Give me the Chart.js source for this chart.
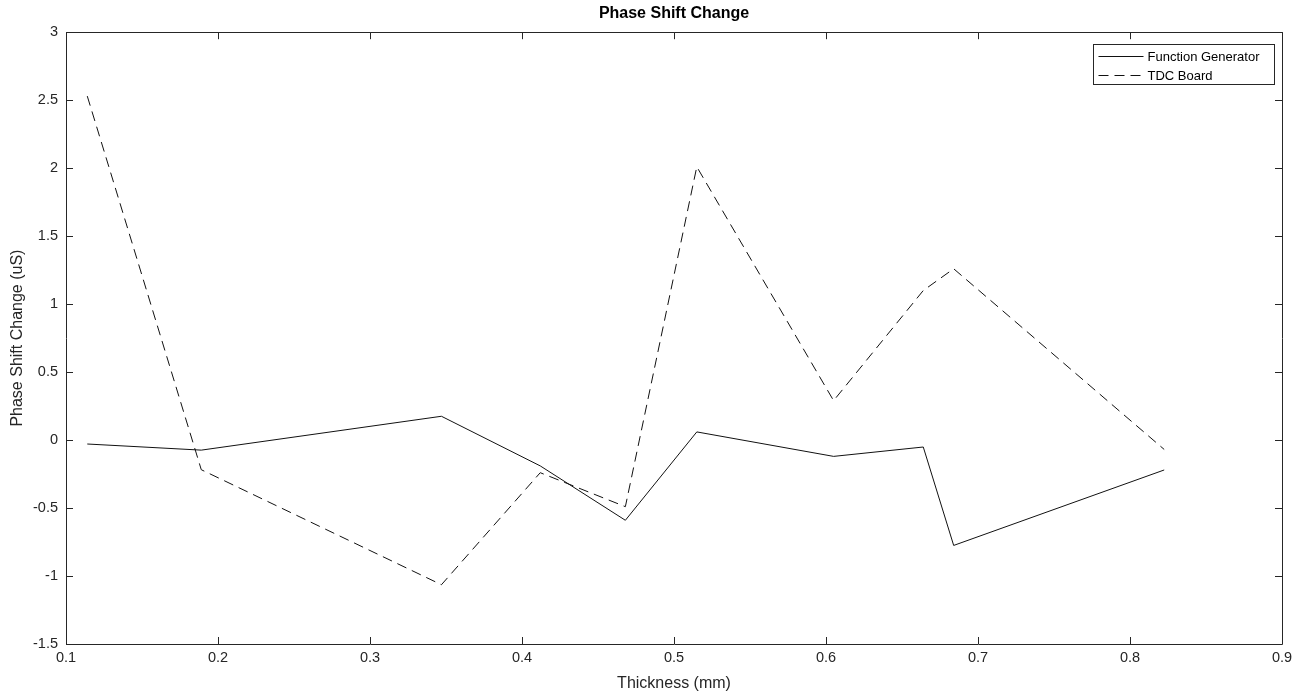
<!DOCTYPE html>
<html>
<head>
<meta charset="utf-8">
<title>Phase Shift Change</title>
<script src="https://cdn.jsdelivr.net/npm/chart.js@4.4.1/dist/chart.umd.min.js"></script>
<style>
  html, body { margin: 0; padding: 0; background: #fff; }
  #wrap { width: 1311px; height: 696px; }
</style>
</head>
<body>
<div id="wrap"><canvas id="phaseChart" width="1311" height="696"></canvas></div>
<script>
// thickness values (mm), shared by both series
var thickness = [0.114, 0.189, 0.347, 0.412, 0.468, 0.515, 0.605, 0.664, 0.684, 0.8225];
// phase shift change (uS)
var funcGen = [-0.029, -0.074, 0.175, -0.19, -0.59, 0.06, -0.12, -0.051, -0.775, -0.22];
var tdcBoard = [2.53, -0.218, -1.064, -0.24, -0.49, 2.01, 0.29, 1.1, 1.26, -0.069];

var seriesNames = ['Function Generator', 'TDC Board'];
var xTicks = [0.1, 0.2, 0.3, 0.4, 0.5, 0.6, 0.7, 0.8, 0.9];
var yTicks = [-1.5, -1, -0.5, 0, 0.5, 1, 1.5, 2, 2.5, 3];

var axisColor = '#262626';
var fontFam = '"Liberation Sans", Arial, Helvetica, sans-serif';

function toPoints(ys) {
    return thickness.map(function (t, i) { return { x: t, y: ys[i] }; });
}

// box round the plot + ticks pointing inwards on all four sides, and the legend
var matlabBox = {
    id: 'matlabBox',
    afterLayout: function (chart) {
        // centre the title over the axes, not the whole canvas
        var tb = chart.titleBlock;
        if (tb) {
            tb.left = chart.chartArea.left;
            tb.right = chart.chartArea.right;
            tb.width = tb.right - tb.left;
        }
    },
    afterDraw: function (chart) {
        var ctx = chart.ctx;
        var a = chart.chartArea;
        var xs = chart.scales.x, ys = chart.scales.y;
        var len = 7;
        ctx.save();
        ctx.strokeStyle = axisColor;
        ctx.lineWidth = 1;
        ctx.beginPath();
        ctx.rect(Math.round(a.left) + 0.5, Math.round(a.top) + 0.5,
                 Math.round(a.right - a.left), Math.round(a.bottom - a.top));
        xTicks.forEach(function (v) {
            var px = Math.round(xs.getPixelForValue(v)) + 0.5;
            ctx.moveTo(px, a.bottom); ctx.lineTo(px, a.bottom - len);
            ctx.moveTo(px, a.top); ctx.lineTo(px, a.top + len);
        });
        yTicks.forEach(function (v) {
            var py = Math.round(ys.getPixelForValue(v)) + 0.5;
            ctx.moveTo(a.left, py); ctx.lineTo(a.left + len, py);
            ctx.moveTo(a.right, py); ctx.lineTo(a.right - len, py);
        });
        ctx.stroke();

        // legend, top right inside the axes
        var bx = 1093.5, by = 44.5, bw = 181, bh = 40;
        ctx.fillStyle = '#fff';
        ctx.fillRect(bx, by, bw, bh);
        ctx.strokeStyle = axisColor;
        ctx.strokeRect(bx, by, bw, bh);
        ctx.font = '13px ' + fontFam;
        ctx.fillStyle = '#000';
        ctx.textBaseline = 'middle';
        var rows = [56.5, 75.5];
        chart.data.datasets.forEach(function (ds, i) {
            ctx.beginPath();
            ctx.strokeStyle = ds.borderColor;
            ctx.setLineDash(ds.borderDash || []);
            ctx.moveTo(bx + 5, rows[i]);
            ctx.lineTo(bx + 50, rows[i]);
            ctx.stroke();
            ctx.setLineDash([]);
            ctx.fillText(ds.label, bx + 54, rows[i] + 1);
        });
        ctx.restore();
    }
};

var data = {
    datasets: [
        {
            label: seriesNames[0],
            data: toPoints(funcGen),
            borderColor: '#111',
            borderWidth: 1,
            pointRadius: 0,
            tension: 0,
            fill: false
        },
        {
            label: seriesNames[1],
            data: toPoints(tdcBoard),
            borderColor: '#111',
            borderWidth: 1,
            borderDash: [10, 6],
            pointRadius: 0,
            tension: 0,
            fill: false
        }
    ]
};

var options = {
    responsive: false,
    animation: false,
    layout: { padding: { left: 2, right: 29, top: 0, bottom: 0 } },
    plugins: {
        legend: { display: false },
        tooltip: { enabled: false },
        title: {
            display: true,
            text: 'Phase Shift Change',
            color: '#000',
            font: { family: fontFam, size: 16, weight: 'bold' },
            padding: { top: 4, bottom: 9 }
        }
    },
    scales: {
        x: {
            type: 'linear',
            min: 0.1,
            max: 0.9,
            afterBuildTicks: function (s) { s.ticks = xTicks.map(function (v) { return { value: v }; }); },
            afterFit: function (s) { s.height = 52; },
            grid: { display: false, drawTicks: false, tickLength: 0 },
            border: { display: false },
            ticks: {
                color: axisColor,
                padding: 5,
                maxRotation: 0,
                font: { family: fontFam, size: 14.5 },
                callback: function (v) { return String(Math.round(v * 10) / 10); }
            },
            title: {
                display: true,
                text: 'Thickness (mm)',
                color: axisColor,
                font: { family: fontFam, size: 16 },
                padding: { top: 2, bottom: 3 }
            }
        },
        y: {
            type: 'linear',
            min: -1.5,
            max: 3,
            afterBuildTicks: function (s) { s.ticks = yTicks.map(function (v) { return { value: v }; }); },
            afterFit: function (s) { s.width = 64; },
            grid: { display: false, drawTicks: false, tickLength: 0 },
            border: { display: false },
            ticks: {
                color: axisColor,
                padding: 8,
                font: { family: fontFam, size: 14.5 },
                callback: function (v) { return String(Math.round(v * 10) / 10); }
            },
            title: {
                display: true,
                text: 'Phase Shift Change (uS)',
                color: axisColor,
                font: { family: fontFam, size: 16 },
                padding: { top: 6, bottom: 4 }
            }
        }
    }
};

var chart = new Chart(document.getElementById('phaseChart').getContext('2d'), {
    type: 'line',
    data: data,
    options: options,
    plugins: [matlabBox]
});
</script>
</body>
</html>
